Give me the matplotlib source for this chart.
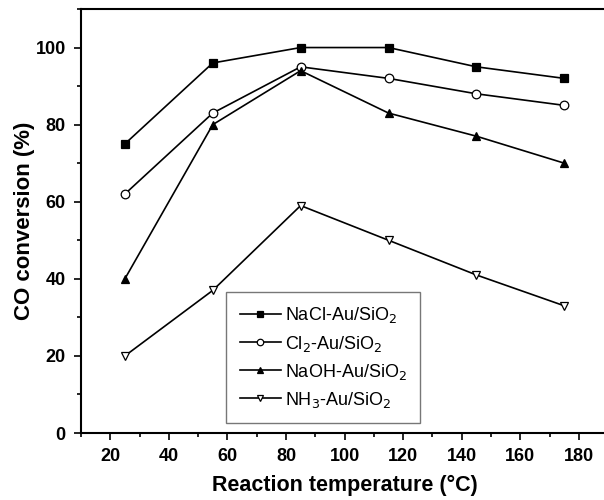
import matplotlib.pyplot as plt
from matplotlib.ticker import MultipleLocator

plt.rcParams['font.family'] = ['Liberation Sans', 'DejaVu Sans']

# Data
temperature = [25, 55, 85, 115, 145, 175]
nacl = [75, 96, 100, 100, 95, 92]
cl2 = [62, 83, 95, 92, 88, 85]
naoh = [40, 80, 94, 83, 77, 70]
nh3 = [20, 37, 59, 50, 41, 33]

labels = [
    "NaCl-Au/SiO$_2$",
    "Cl$_2$-Au/SiO$_2$",
    "NaOH-Au/SiO$_2$",
    "NH$_3$-Au/SiO$_2$",
]

fig = plt.figure(figsize=(6.04, 5.0), dpi=100)
ax = fig.add_axes([0.134, 0.134, 0.873, 0.848])

style = dict(color="black", lw=1.2, ms=6.2, mew=0.9)
ax.plot(temperature, nacl, marker="s", mfc="black", label=labels[0], **style)
ax.plot(temperature, cl2, marker="o", mfc="white", label=labels[1], **style)
ax.plot(temperature, naoh, marker="^", mfc="black", label=labels[2], **style)
ax.plot(temperature, nh3, marker="v", mfc="white", label=labels[3], **style)

ax.set_xlim(10, 190)
ax.set_ylim(0, 110)
ax.xaxis.set_major_locator(MultipleLocator(20))
ax.xaxis.set_minor_locator(MultipleLocator(10))
ax.yaxis.set_major_locator(MultipleLocator(20))
ax.yaxis.set_minor_locator(MultipleLocator(10))
ax.tick_params(which="both", direction="out", width=1.2, labelsize=13)
ax.tick_params(which="major", length=5, pad=6)
ax.tick_params(which="minor", length=3)
for lab in ax.get_xticklabels() + ax.get_yticklabels():
    lab.set_fontweight("bold")
for sp in ax.spines.values():
    sp.set_linewidth(1.5)

ax.set_xlabel("Reaction temperature (\u00b0C)", fontsize=15.5, fontweight="bold", labelpad=7)
ax.set_ylabel("CO conversion (%)", fontsize=16, fontweight="bold", labelpad=0)

leg = ax.legend(loc="lower left", bbox_to_anchor=(0.265, 0.01), fontsize=13,
                frameon=True, fancybox=False, handlelength=2.3, handletextpad=0.2,
                labelspacing=0.45, borderpad=0.75, borderaxespad=0.3, markerscale=0.75)
leg.get_frame().set_edgecolor("#555555")
leg.get_frame().set_linewidth(1.0)

fig.savefig("out.png", dpi=100)
